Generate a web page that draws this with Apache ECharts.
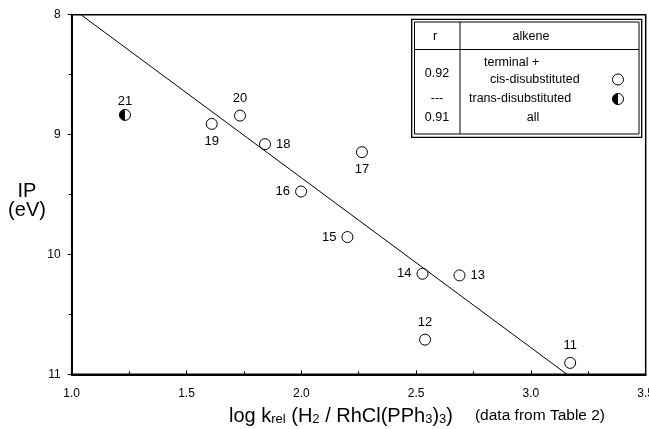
<!DOCTYPE html>
<html>
<head>
<meta charset="utf-8">
<script src="https://cdn.jsdelivr.net/npm/echarts@6/dist/echarts.min.js"></script>
<style>
  html, body { margin: 0; padding: 0; background: #fff; }
  #chart { width: 649px; height: 429px; }
</style>
</head>
<body>
<div id="chart"></div>
<script>
// compounds 11-20: terminal + cis-disubstituted alkenes
var ids = ['11', '12', '13', '14', '15', '16', '17', '18', '19', '20'];
var logK = [3.171, 2.539, 2.689, 2.528, 2.201, 1.999, 2.264, 1.842, 1.610, 1.733];
var ip = [10.905, 10.711, 10.175, 10.161, 9.855, 9.475, 9.147, 9.08, 8.911, 8.842];

// compound 21: trans-disubstituted
var transIds = ['21'];
var transLogK = [1.232];
var transIp = [8.836];

// regression line end points
var fitX = [1.04, 3.157];
var fitY = [8, 11];

// where each point number sits
var labelPos = {
  '11': 'top', '12': 'top', '13': 'right', '14': 'left', '15': 'left',
  '16': 'left', '17': 'bottom', '18': 'right', '19': 'bottom', '20': 'top'
};

var FONT = 'Liberation Sans, Arial, sans-serif';

var pts = ids.map(function (id, i) {
  return {
    name: id,
    value: [logK[i], ip[i]],
    label: { position: labelPos[id] }
  };
});

var fitData = fitX.map(function (x, i) { return [x, fitY[i]]; });
var transData = transIds.map(function (id, i) {
  return { name: id, value: [transLogK[i], transIp[i]] };
});

function halfCircle(cx, cy, r, z) {
  return [
    { type: 'circle', z: z, shape: { cx: cx, cy: cy, r: r }, style: { fill: '#fff', stroke: '#000', lineWidth: 1 } },
    { type: 'sector', z: z, shape: { cx: cx, cy: cy, r: r, r0: 0, startAngle: Math.PI / 2, endAngle: Math.PI * 1.5 }, style: { fill: '#000' } }
  ];
}

function txt(t, x, y, align) {
  return {
    type: 'text', z: 12,
    style: { text: t, x: x, y: y, align: align || 'center', verticalAlign: 'middle', fill: '#000', font: '12.5px ' + FONT }
  };
}

var myChart = echarts.init(document.getElementById('chart'));

var option = {
  animation: false,
  backgroundColor: '#fff',
  grid: {
    left: 71.7, top: 14.7, right: 3.3, bottom: 54.7,
    outerBoundsMode: 'none',
    containLabel: false,
    show: true, borderColor: '#000', borderWidth: 1.5, backgroundColor: 'transparent'
  },
  xAxis: {
    type: 'value',
    min: 1, max: 3.5, interval: 0.5,
    axisLine: { show: true, onZero: false, lineStyle: { color: '#000', width: 2 } },
    axisTick: { show: true, inside: true, length: 4, lineStyle: { color: '#000' } },
    minorTick: { show: true, splitNumber: 2, length: 3, lineStyle: { color: '#000' } },
    splitLine: { show: false },
    axisLabel: {
      color: '#000', fontFamily: FONT, fontSize: 12, margin: 13,
      formatter: function (v) { return v.toFixed(1); }
    }
  },
  yAxis: {
    type: 'value',
    inverse: true,
    min: 8, max: 11, interval: 1,
    axisLine: { show: true, onZero: false, lineStyle: { color: '#000', width: 2 } },
    axisTick: { show: true, inside: false, length: 4, lineStyle: { color: '#000' } },
    minorTick: { show: true, splitNumber: 2, length: 3, lineStyle: { color: '#000' } },
    splitLine: { show: false },
    axisLabel: { color: '#000', fontFamily: FONT, fontSize: 12, margin: 11 }
  },
  series: [
    {
      type: 'scatter',
      data: pts,
      symbol: 'circle',
      symbolSize: 11,
      itemStyle: { color: '#fff', borderColor: '#000', borderWidth: 1, opacity: 1 },
      label: {
        show: true, formatter: '{b}', color: '#000', fontFamily: FONT, fontSize: 13, distance: 5
      },
      z: 3
    },
    {
      type: 'custom',
      data: transData,
      renderItem: function (params, api) {
        var p = api.coord([api.value(0), api.value(1)]);
        var kids = halfCircle(p[0], p[1], 5.5);
        kids.push({
          type: 'text',
          style: { text: transIds[params.dataIndex], x: p[0], y: p[1] - 7, align: 'center', verticalAlign: 'bottom', fill: '#000', font: '13px ' + FONT }
        });
        return { type: 'group', children: kids };
      },
      encode: { x: 0, y: 1 },
      z: 3
    },
    {
      type: 'line',
      data: fitData,
      symbol: 'none',
      lineStyle: { color: '#000', width: 1 },
      silent: true,
      z: 4
    }
  ],
  graphic: [
    // legend table
    { type: 'rect', z: 10, shape: { x: 411.7, y: 19.3, width: 230, height: 118 }, style: { fill: '#fff', stroke: '#000', lineWidth: 1.3 } },
    { type: 'rect', z: 11, shape: { x: 414.5, y: 22, width: 224.5, height: 112 }, style: { fill: 'none', stroke: '#000', lineWidth: 1 } },
    { type: 'line', z: 11, shape: { x1: 460, y1: 22, x2: 460, y2: 134 }, style: { stroke: '#000', lineWidth: 1 } },
    { type: 'line', z: 11, shape: { x1: 414.5, y1: 49.5, x2: 639, y2: 49.5 }, style: { stroke: '#000', lineWidth: 1 } },
    txt('r', 435, 36.5),
    txt('alkene', 531, 36.5),
    txt('0.92', 437, 74),
    txt('terminal +', 484, 62.5, 'left'),
    txt('cis-disubstituted', 490, 80, 'left'),
    txt('---', 437, 99),
    txt('trans-disubstituted', 469, 99, 'left'),
    txt('0.91', 437, 118),
    txt('all', 533, 118),
    { type: 'circle', z: 12, shape: { cx: 618, cy: 79.5, r: 5.5 }, style: { fill: '#fff', stroke: '#000', lineWidth: 1 } }
  ].concat(halfCircle(618, 99, 5.5, 12)).concat([
    // y axis title
    {
      type: 'text', z: 10,
      style: {
        text: 'IP\n(eV)', x: 27, y: 200.5, align: 'center', verticalAlign: 'middle',
        fill: '#000', font: '20px ' + FONT, lineHeight: 19
      }
    },
    // x axis title
    {
      type: 'text', left: 229, top: 406, z: 10,
      style: {
        text: 'log k{sub|rel} (H{sub|2} / RhCl(PPh{sub|3}){sub|3}){gap|}{note|(data from Table 2)}',
        fill: '#000',
        font: '20px ' + FONT,
        rich: {
          sub: { fontSize: 13, fontFamily: FONT, lineHeight: 13, verticalAlign: 'bottom', fill: '#000' },
          gap: { width: 22 },
          note: { fontSize: 15.5, fontFamily: FONT, fill: '#000', verticalAlign: 'middle' }
        }
      }
    }
  ])
};

myChart.setOption(option);
</script>
</body>
</html>
